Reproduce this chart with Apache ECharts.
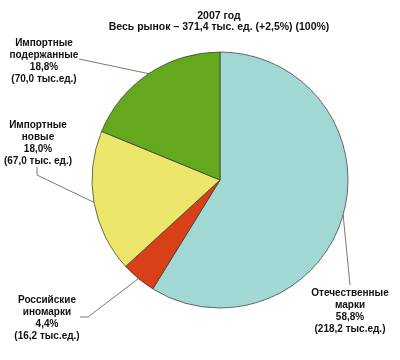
<!DOCTYPE html>
<html><head><meta charset="utf-8">
<script src="https://cdn.jsdelivr.net/npm/echarts@6/dist/echarts.min.js"></script>
<style>html,body{margin:0;padding:0;background:#fff}#c{width:400px;height:360px}</style>
</head><body><div id="c"></div>
<script>
const titleLines = ['2007 год', 'Весь рынок – 371,4 тыс. ед. (+2,5%) (100%)'];
const categories = ['Отечественные\nмарки', 'Российские\nиномарки', 'Импортные\nновые', 'Импортные\nподержанные'];
const shares = [58.8, 4.4, 18.0, 18.8];
const units = [218.2, 16.2, 67.0, 70.0];
const unitLabels = ['(218,2 тыс.ед.)', '(16,2 тыс.ед.)', '(67,0 тыс. ед.)', '(70,0 тыс.ед.)'];
const colors = ['#a2d8d3', '#d8401a', '#ece76a', '#64a81e'];

// label anchor positions and line bend points (layout only)
const labelPos = [
  {x: 350, y: 311, pts: [[350, 285]]},
  {x: 47, y: 318, pts: [[88, 317], [80, 317]]},
  {x: 38, y: 143, pts: [[37, 175], [37, 167]]},
  {x: 44, y: 61, pts: [[79, 59]]}
];

const chart = echarts.init(document.getElementById('c'));
chart.setOption({
  animation: false,
  title: {
    text: titleLines.join('\n'),
    left: 214, top: 6, textAlign: 'center',
    textStyle: {fontFamily: 'Liberation Sans', fontWeight: 'bold', fontSize: 10.5, lineHeight: 11, color: '#111'}
  },
  series: [{
    type: 'pie',
    center: [220, 180],
    radius: 128,
    startAngle: 90,
    clockwise: true,
    data: categories.map((c, i) => ({
      name: c, value: shares[i],
      itemStyle: {color: colors[i]}
    })),
    itemStyle: {borderColor: '#333', borderWidth: 0.7},
    label: {
      show: true,
      position: 'outside',
      overflow: 'none',
      formatter: p => p.name + '\n' + shares[p.dataIndex].toFixed(1).replace('.', ',') + '%\n' + unitLabels[p.dataIndex],
      fontFamily: 'Liberation Sans', fontWeight: 'bold', fontSize: 10, lineHeight: 12,
      color: '#111', align: 'center'
    },
    labelLine: {show: true, lineStyle: {color: '#555', width: 0.8}},
    labelLayout: function (p) {
      const L = labelPos[p.dataIndex];
      const s = p.labelLinePoints ? p.labelLinePoints[0] : null;
      const out = {x: L.x, y: L.y, align: 'center', verticalAlign: 'middle', hideOverlap: false};
      if (s) out.labelLinePoints = [s].concat(L.pts);
      return out;
    },
    emphasis: {disabled: true}
  }]
});
</script></body></html>
